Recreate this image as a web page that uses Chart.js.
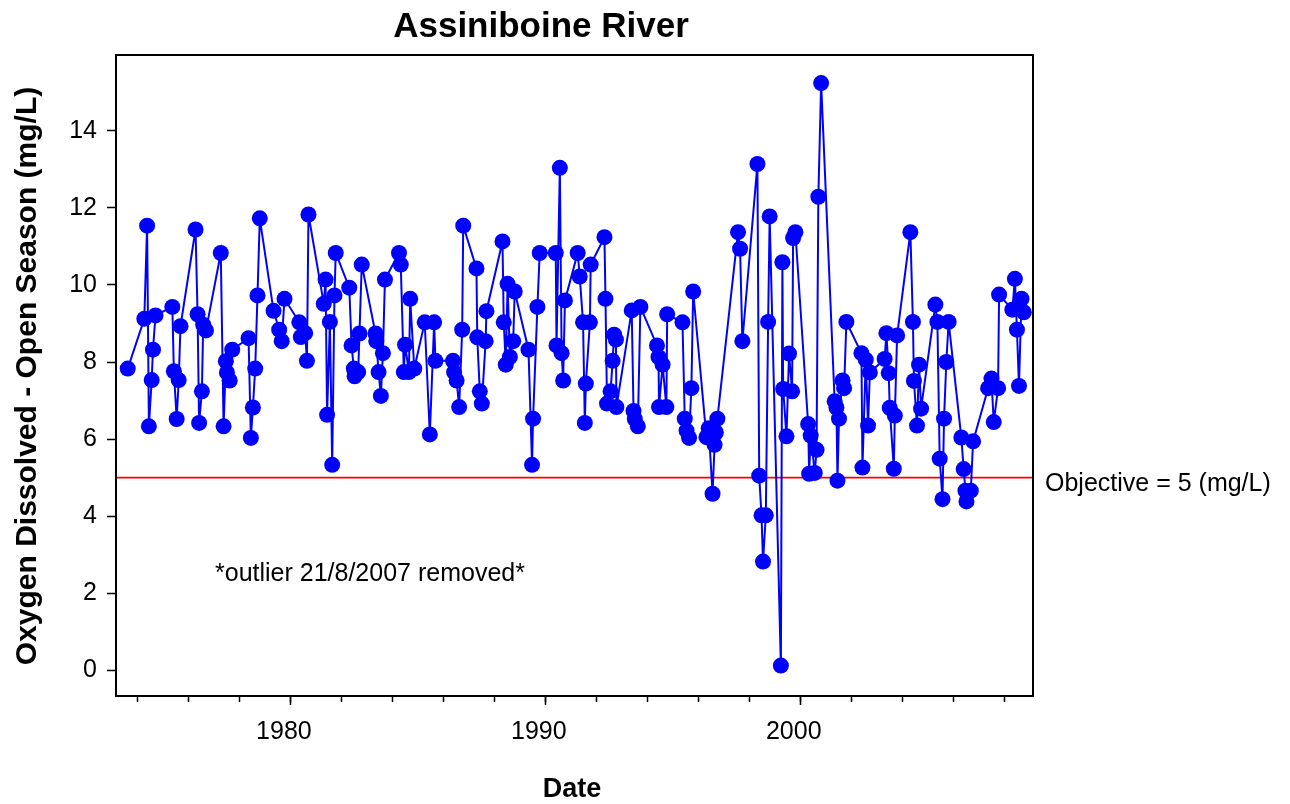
<!DOCTYPE html>
<html>
<head>
<meta charset="utf-8">
<script src="https://cdn.jsdelivr.net/npm/chart.js@4.4.1/dist/chart.umd.min.js"></script>
<style>
html,body{margin:0;padding:0;background:#fff;}
#wrap{width:1290px;height:804px;position:relative;}
</style>
</head>
<body>
<div id="wrap"><canvas id="c" width="1290" height="804"></canvas></div>
<script>
// ---- data (decimal year of sampling, dissolved oxygen mg/L) ----
const dates = [
1973.60,1974.25,1974.36,1974.43,1974.54,1974.59,1974.69,
1975.35,1975.41,1975.52,1975.60,1975.67,
1976.26,1976.34,1976.40,1976.51,1976.56,1976.67,
1977.25,1977.36,1977.45,1977.49,1977.60,1977.70,
1978.34,1978.43,1978.51,1978.60,1978.69,1978.78,
1979.32,1979.54,1979.64,1979.75,
1980.33,1980.39,1980.56,1980.63,1980.69,
1981.29,1981.36,1981.42,1981.53,1981.62,1981.71,1981.76,
1982.29,1982.38,1982.47,1982.50,1982.64,1982.69,1982.78,
1983.32,1983.35,1983.44,1983.53,1983.61,1983.69,
1984.24,1984.31,1984.43,1984.48,1984.63,1984.68,1984.84,
1985.25,1985.45,1985.62,1985.67,
1986.36,1986.40,1986.50,1986.60,1986.72,1986.76,
1987.28,1987.31,1987.41,1987.49,1987.64,1987.67,
1988.30,1988.35,1988.43,1988.50,1988.59,1988.72,1988.78,
1989.32,1989.46,1989.50,1989.67,1989.76,
1990.39,1990.42,1990.55,1990.62,1990.68,1990.75,
1991.25,1991.33,1991.46,1991.53,1991.57,1991.73,1991.76,
1992.30,1992.34,1992.40,1992.54,1992.62,1992.68,1992.75,1992.77,
1993.37,1993.44,1993.49,1993.61,1993.71,
1994.36,1994.42,1994.44,1994.58,1994.73,1994.76,
1995.36,1995.45,1995.52,1995.62,1995.71,1995.78,
1996.30,1996.39,1996.54,1996.62,1996.67,1996.73,
1997.54,1997.62,1997.71,
1998.30,1998.37,1998.46,1998.52,1998.63,1998.72,1998.78,
1999.22,1999.28,1999.31,1999.44,1999.54,1999.66,1999.70,1999.79,
2000.29,2000.33,2000.39,2000.55,2000.62,2000.69,2000.80,
2001.33,2001.40,2001.44,2001.50,2001.64,2001.70,2001.79,
2002.38,2002.42,2002.55,2002.64,2002.71,
2003.29,2003.36,2003.45,2003.49,2003.65,2003.69,2003.78,
2004.30,2004.40,2004.44,2004.56,2004.64,2004.72,
2005.28,2005.36,2005.45,2005.56,2005.62,2005.71,2005.80,
2006.30,2006.39,2006.46,2006.50,2006.67,2006.76,
2007.35,2007.48,2007.57,2007.74,2007.78,
2008.30,2008.40,2008.48,2008.56,2008.66,2008.75
];
const oxygen = [
7.83,9.12,11.54,6.33,7.53,8.32,9.21,
9.43,7.76,6.52,7.53,8.93,
11.44,9.24,6.42,7.24,8.97,8.82,
10.83,6.33,8.02,7.73,7.52,8.32,
8.62,6.03,6.82,7.83,9.73,11.73,
9.33,8.84,8.54,9.64,
9.03,8.65,8.75,8.03,11.83,
9.51,10.14,6.63,9.04,5.33,9.73,10.83,
9.93,8.43,7.83,7.63,7.74,8.74,10.53,
8.74,8.54,7.74,7.12,8.23,10.14,
10.83,10.53,7.74,8.45,7.74,9.64,7.83,
9.03,6.12,9.03,8.03,
8.03,7.74,7.52,6.83,8.84,11.54,
10.43,8.64,7.24,6.92,8.54,9.32,
11.13,9.03,7.93,10.03,8.13,8.54,9.83,
8.32,5.33,6.53,9.43,10.83,
10.83,8.43,13.04,8.23,7.52,9.60,
10.83,10.22,9.03,6.42,7.44,9.03,10.53,
11.24,9.64,6.92,7.24,8.03,8.71,8.58,6.83,
9.34,6.73,6.52,6.33,9.43,
8.43,8.13,6.83,7.93,6.83,9.24,
9.03,6.53,6.22,6.03,7.32,9.83,
6.05,6.28,4.58,5.85,6.17,6.53,
11.37,10.94,8.54,
13.14,5.05,4.02,2.82,4.02,9.04,11.78,
0.12,10.59,7.30,6.07,8.22,7.24,11.22,11.37,
6.39,5.10,6.09,5.12,5.72,12.29,15.24,
6.98,6.82,4.92,6.53,7.52,7.32,9.04,
8.23,5.26,8.06,6.35,7.73,
8.08,8.75,7.71,6.81,5.23,6.61,8.69,
11.37,9.04,7.51,6.35,7.93,6.79,
9.49,9.04,5.49,4.44,6.53,8.00,9.04,
6.04,5.22,4.66,4.38,4.66,5.94,
7.32,7.57,6.44,7.32,9.75,
9.36,10.16,8.84,7.38,9.64,9.29
];
const objectiveLevel = 5;
const objectiveRange = [1973.14, 2009.11];
const yTickValues = [0, 2, 4, 6, 8, 10, 12, 14];
const majorYearTicks = [1980, 1990, 2000];
const minorYearTicks = [1974,1976,1978,1980,1982,1984,1986,1988,1990,1992,1994,1996,1998,2000,2002,2004,2006,2008];

// ---- drawing ----
const FONT = '"Liberation Sans", Arial, Helvetica, sans-serif';
const X_MIN = 1973.14, X_MAX = 2009.11, Y_MIN = -0.67, Y_MAX = 15.97;

const points = dates.map((d, i) => ({ x: d, y: oxygen[i] }));
const objectivePts = objectiveRange.map(x => ({ x: x, y: objectiveLevel }));

const decorPlugin = {
  id: 'decor',
  afterDraw(chart) {
    const { ctx, chartArea: a } = chart;
    ctx.save();
    ctx.strokeStyle = '#000';
    ctx.lineWidth = 2;
    ctx.strokeRect(a.left, a.top, a.right - a.left, a.bottom - a.top);
    ctx.fillStyle = '#000';
    ctx.textBaseline = 'alphabetic';
    ctx.textAlign = 'center';
    ctx.font = 'bold 35px ' + FONT;
    ctx.fillText('Assiniboine River', 541, 37);
    ctx.font = 'bold 27px ' + FONT;
    ctx.fillText('Date', 572, 797);
    ctx.save();
    ctx.translate(36, 376);
    ctx.rotate(-Math.PI / 2);
    ctx.font = 'bold 30px ' + FONT;
    ctx.fillText('Oxygen Dissolved - Open Season (mg/L)', 0, 0);
    ctx.restore();
    ctx.textAlign = 'left';
    ctx.font = '25px ' + FONT;
    const yObj = chart.scales.y.getPixelForValue(objectiveLevel);
    ctx.fillText('Objective = 5 (mg/L)', 1045, yObj + 13);
    ctx.fillText('*outlier 21/8/2007 removed*', 215, 581);
    ctx.restore();
  }
};

const tickGrid = (len) => ({
  drawOnChartArea: false, drawTicks: true, tickLength: len,
  tickColor: '#000', tickWidth: 1.5, color: '#000'
});

new Chart(document.getElementById('c'), {
  type: 'scatter',
  data: {
    datasets: [
      {
        label: 'DO',
        data: points,
        showLine: true,
        borderColor: '#0000FF',
        borderWidth: 2,
        backgroundColor: '#0000FF',
        pointBackgroundColor: '#0000FF',
        pointBorderColor: '#0000FF',
        pointBorderWidth: 0,
        pointRadius: 8,
        tension: 0,
        order: 0
      },
      {
        label: 'Objective',
        data: objectivePts,
        showLine: true,
        borderColor: '#FF0000',
        borderWidth: 1.6,
        pointRadius: 0,
        order: 1
      }
    ]
  },
  options: {
    responsive: false,
    maintainAspectRatio: false,
    animation: false,
    devicePixelRatio: 1,
    layout: { padding: { left: 0, top: 55, right: 257, bottom: 0 } },
    plugins: { legend: { display: false }, tooltip: { enabled: false }, title: { display: false } },
    scales: {
      x: {
        type: 'linear', position: 'bottom', min: X_MIN, max: X_MAX,
        afterBuildTicks: s => { s.ticks = minorYearTicks.map(v => ({ value: v })); },
        afterFit: s => { s.height = 0; },
        grid: tickGrid(6),
        border: { display: false },
        ticks: { display: false }
      },
      xMajor: {
        type: 'linear', position: 'bottom', min: X_MIN, max: X_MAX,
        afterBuildTicks: s => { s.ticks = majorYearTicks.map(v => ({ value: v })); },
        afterFit: s => { s.height = 108; },
        grid: tickGrid(9),
        border: { display: false },
        ticks: {
          color: '#000', font: { family: FONT, size: 25 }, padding: 12,
          labelOffset: -7, maxRotation: 0, autoSkip: false,
          callback: v => String(v)
        }
      },
      y: {
        type: 'linear', position: 'left', min: Y_MIN, max: Y_MAX,
        afterBuildTicks: s => { s.ticks = yTickValues.map(v => ({ value: v })); },
        afterFit: s => { s.width = 116; },
        grid: tickGrid(9),
        border: { display: false },
        ticks: {
          color: '#000', font: { family: FONT, size: 25 }, padding: 10,
          autoSkip: false, callback: v => String(v)
        }
      }
    }
  },
  plugins: [decorPlugin]
});
</script>
</body>
</html>
